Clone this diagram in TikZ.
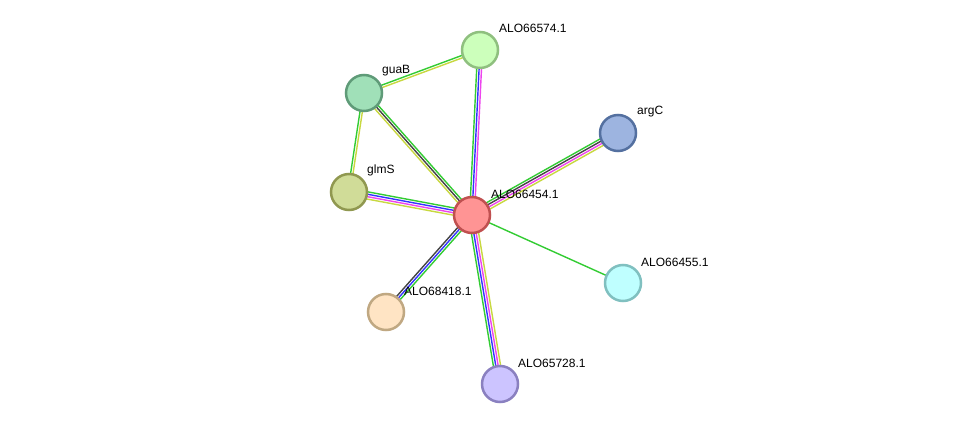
\documentclass[tikz,border=0pt]{standalone}
\usepackage{fontspec}
\setmainfont{Liberation Sans}
\usetikzlibrary{calc}
\pgfdeclarelayer{paper}
\pgfdeclarelayer{background}
\pgfsetlayers{paper,background,main}
\definecolor{eg}{HTML}{33CC33}
\definecolor{eb}{HTML}{3333FF}
\definecolor{em}{HTML}{EE44EE}
\definecolor{ey}{HTML}{C8D840}
\definecolor{ek}{HTML}{444444}
\tikzset{
  prot/.style={circle, minimum size=36pt, inner sep=0pt, line width=2.5pt},
  lbl/.style={anchor=west, inner sep=0pt, font=\fontsize{12}{14}\selectfont},
  edgeline/.style={line width=1.4pt},
}
\newcommand\edgebundle[3]{%
  \foreach \c [count=\i] in {#3} {\xdef\nlines{\i}}%
  \foreach \c [count=\i] in {#3} {%
    \pgfmathsetmacro\off{(\i-(\nlines+1)/2)*2.4}%
    \draw[edgeline, draw=\c] ($(#1)!\off pt!90:(#2)$) -- ($(#2)!\off pt!-90:(#1)$);
  }%
}
\begin{document}
\begin{tikzpicture}[x=1pt,y=-1pt]
\begin{pgfonlayer}{paper}
\fill[white] (0,0) rectangle (976,430);
\end{pgfonlayer}
\useasboundingbox (0,0) rectangle (976,430);
\node[prot, fill={rgb,255:red,204;green,255;blue,187}, draw={rgb,255:red,143;green,192;blue,127}] (n574) at (480,50) {};
\node[prot, fill={rgb,255:red,160;green,224;blue,184}, draw={rgb,255:red,95;green,155;blue,120}] (guaB) at (364,93) {};
\node[prot, fill={rgb,255:red,157;green,180;blue,224}, draw={rgb,255:red,84;green,112;blue,160}] (argC) at (618,133) {};
\node[prot, fill={rgb,255:red,208;green,220;blue,152}, draw={rgb,255:red,144;green,152;blue,80}] (glmS) at (349,192) {};
\node[prot, fill={rgb,255:red,255;green,148;blue,148}, draw={rgb,255:red,192;green,80;blue,80}] (c) at (472,215) {};
\node[prot, fill={rgb,255:red,191;green,255;blue,255}, draw={rgb,255:red,128;green,192;blue,192}] (n455) at (623,283) {};
\node[prot, fill={rgb,255:red,255;green,228;blue,196}, draw={rgb,255:red,192;green,168;blue,130}] (n418) at (386,312) {};
\node[prot, fill={rgb,255:red,204;green,196;blue,255}, draw={rgb,255:red,138;green,128;blue,192}] (n728) at (500,384) {};
\node[lbl] (l574) at (499,28) {ALO66574.1};
\node[lbl] (lguaB) at (382,71) {guaB};
\node[lbl] (largC) at (637,112) {argC};
\node[lbl] (lglmS) at (367,170) {glmS};
\node[lbl] (lc) at (491,194) {ALO66454.1};
\node[lbl] (l455) at (641,262) {ALO66455.1};
\node[lbl] (l418) at (404,291) {ALO68418.1};
\node[lbl] (l728) at (518,363) {ALO65728.1};
\begin{pgfonlayer}{background}
\edgebundle{guaB}{n574}{ey,eg}
\edgebundle{n574}{c}{eg,eb,em}
\edgebundle{guaB}{c}{ey,ek,eg}
\edgebundle{guaB}{glmS}{eg,ey}
\edgebundle{glmS}{c}{ey,em,eb,eg}
\edgebundle{argC}{c}{eg,ek,em,ey}
\edgebundle{c}{n455}{eg}
\edgebundle{c}{n418}{ek,eb,eg}
\edgebundle{c}{n728}{eg,eb,em,ey}
\end{pgfonlayer}
\end{tikzpicture}
\end{document}
